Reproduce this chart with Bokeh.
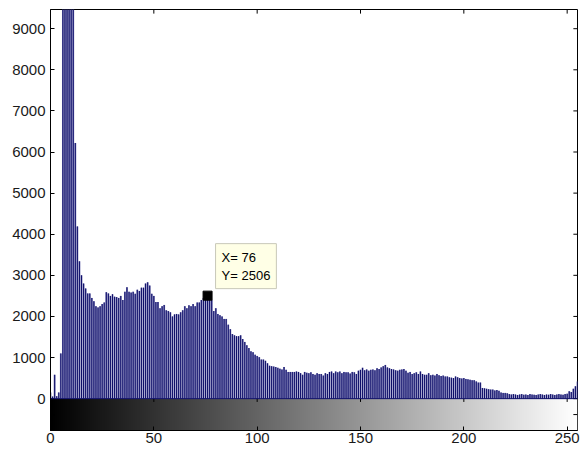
import numpy as np
from bokeh.plotting import figure
from bokeh.models import Range1d, FixedTicker, Label, Span, ColumnDataSource
from bokeh.embed import file_html
from bokeh.resources import INLINE
from bokeh.palettes import Greys256

# ---- data (histogram counts per gray level 0..255) ----
counts = [
    150, 50, 580, 60, 150, 1100, 13000, 17000, 19000, 16000,
    14000, 11000, 6220, 4190, 3340, 3000, 2800, 2680, 2560, 2560,
    2450, 2370, 2250, 2220, 2250, 2300, 2340, 2590, 2560, 2500,
    2540, 2480, 2470, 2450, 2500, 2400, 2600, 2710, 2600, 2580,
    2600, 2550, 2650, 2620, 2700, 2700, 2800, 2830, 2750, 2550,
    2500, 2350, 2350, 2200, 2250, 2280, 2150, 2130, 2100, 2000,
    2050, 2060, 2050, 2100, 2150, 2250, 2200, 2270, 2250, 2300,
    2250, 2340, 2340, 2400, 2450, 2450, 2506, 2450, 2400, 2130,
    2200, 2060, 2030, 2000, 1940, 1940, 1800, 1690, 1570, 1540,
    1520, 1520, 1540, 1450, 1380, 1300, 1230, 1150, 1130, 1070,
    1040, 1010, 950, 950, 920, 860, 800, 790, 780, 770,
    750, 730, 710, 770, 700, 650, 650, 650, 650, 660,
    650, 620, 580, 650, 630, 620, 640, 600, 580, 620,
    600, 600, 560, 620, 600, 650, 660, 620, 660, 640,
    660, 620, 650, 640, 640, 610, 650, 640, 600, 680,
    700, 750, 690, 710, 680, 700, 710, 690, 740, 720,
    760, 790, 820, 760, 740, 720, 710, 690, 680, 700,
    710, 720, 680, 630, 650, 600, 620, 640, 600, 660,
    600, 580, 580, 620, 570, 580, 560, 600, 570, 550,
    560, 540, 540, 520, 510, 500, 540, 520, 500, 490,
    500, 480, 470, 460, 450, 450, 420, 390, 390, 260,
    250, 240, 230, 220, 220, 200, 210, 190, 150, 140,
    140, 130, 110, 100, 110, 100, 90, 100, 110, 95,
    100, 90, 110, 100, 95, 90, 100, 110, 100, 90,
    100, 95, 110, 100, 90, 100, 110, 100, 95, 110,
    120, 180, 160, 240, 300, 420,
]
levels = list(range(256))
x_ticks = [0, 50, 100, 150, 200, 250]
y_ticks = [0, 1000, 2000, 3000, 4000, 5000, 6000, 7000, 8000, 9000]
tip_x = 76
tip_y = 2506
x_max = 255
y_top = 9467
cbar_bottom = -775

FONT = "Liberation Sans"
BAR_DARK = "#0e0e68"
BAR_LIGHT = "#7575b2"
TXT = "#1a1a1a"

p = figure(width=580, height=447,
           x_range=Range1d(0, x_max), y_range=Range1d(cbar_bottom, y_top),
           output_backend="svg", toolbar_location=None,
           min_border_left=50, min_border_right=3, min_border_top=9,
           min_border_bottom=17)
p.grid.visible = False
p.outline_line_color = "black"
p.outline_line_width = 1
p.background_fill_color = "white"
p.border_fill_color = "white"

# gray-level colour bar beneath the histogram
grad = np.array([levels], dtype=float)
p.image(image=[grad], x=0, y=cbar_bottom, dw=x_max, dh=-cbar_bottom,
        palette=Greys256, level="image")

# histogram stems
src = ColumnDataSource(dict(x=levels, top=counts, zero=[0] * len(levels)))
p.vbar(x="x", top="top", bottom="zero", width=0.9, source=src,
       fill_color=BAR_LIGHT, line_color=None)
p.segment(x0="x", y0="zero", x1="x", y1="top", source=src,
          line_color=BAR_DARK, line_width=1)
p.add_layout(Span(location=0, dimension="width", line_color=BAR_DARK, line_width=1))

# inward tick marks on the top edge, the colour bar top edge and the right edge
tick_ylen = 100   # ~4 px in y data units
tick_xlen = 2     # ~4 px in x data units
n_x = len(x_ticks)
p.segment(x0=x_ticks, y0=[y_top] * n_x, x1=x_ticks, y1=[y_top - tick_ylen] * n_x,
          line_color="black", line_width=1)
p.segment(x0=x_ticks, y0=[0] * n_x, x1=x_ticks, y1=[-tick_ylen * 0.8] * n_x,
          line_color="black", line_width=1)
n_y = len(y_ticks)
p.segment(x0=[x_max] * n_y, y0=y_ticks, x1=[x_max - tick_xlen] * n_y, y1=y_ticks,
          line_color="black", line_width=1)
cb_mid = cbar_bottom / 2
p.segment(x0=[0, x_max], y0=[cb_mid, cb_mid], x1=[tick_xlen, x_max - tick_xlen],
          y1=[cb_mid, cb_mid], line_color="black", line_width=1)

# data tip
p.scatter(x=[tip_x], y=[tip_y], marker="square", size=9, color="black")
tip = Label(x=tip_x, y=tip_y, x_offset=8, y_offset=7,
            text=f"X= {tip_x}\nY= {tip_y}",
            text_font=FONT, text_font_size="13px", text_color="black",
            text_align="left", text_baseline="bottom",
            background_fill_color="#ffffe6", background_fill_alpha=1.0,
            border_line_color="#c8c8b8", border_line_width=1,
            padding=6)
p.add_layout(tip)

# axes
xa = p.xaxis[0]
xa.ticker = FixedTicker(ticks=x_ticks)
xa.minor_tick_line_color = None
xa.major_tick_in = 4
xa.major_tick_out = 0
xa.major_label_standoff = 2
xa.major_label_text_font = FONT
xa.major_label_text_font_size = "15px"
xa.major_label_text_color = TXT
xa.axis_line_color = "black"

ya = p.yaxis[0]
ya.ticker = FixedTicker(ticks=y_ticks)
ya.minor_tick_line_color = None
ya.major_tick_in = 4
ya.major_tick_out = 0
ya.major_label_standoff = 5
ya.major_label_text_font = FONT
ya.major_label_text_font_size = "15px"
ya.major_label_text_color = TXT
ya.axis_line_color = "black"

open("out.html", "w").write(file_html(p, INLINE))
